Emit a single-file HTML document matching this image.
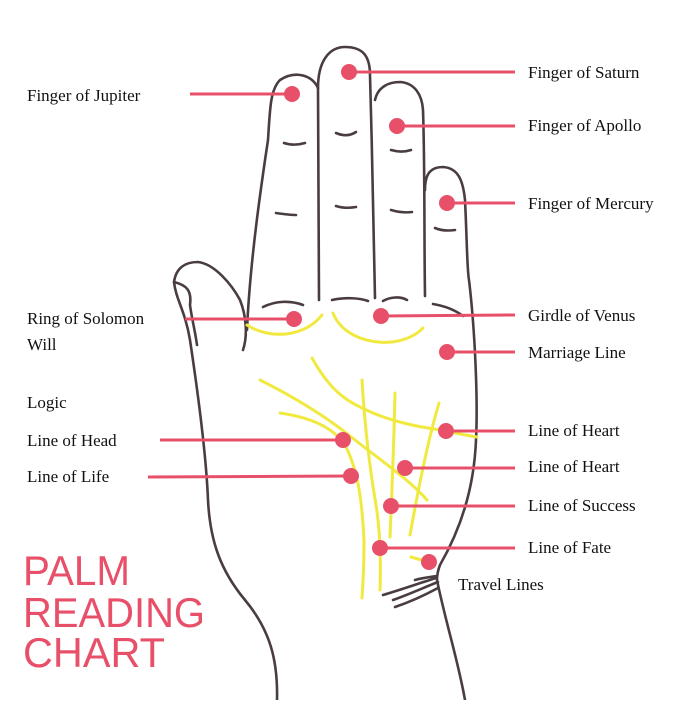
<!DOCTYPE html>
<html><head><meta charset="utf-8"><style>html,body{margin:0;padding:0;background:#fff}</style></head>
<body>
<svg width="700" height="700" viewBox="0 0 700 700" xmlns="http://www.w3.org/2000/svg">
<g fill="none" stroke="#4a3d42" stroke-width="2.6" stroke-linecap="round" stroke-linejoin="round">
<!-- left outline + thumb -->
<path d="M277,700 C278,660 270,630 245,600 C220,570 210,540 208,500 C206,450 196,380 190,340 C185,310 176,300 174,282 C176,268 185,262 198,262 C215,264 232,285 240,300 C246,315 248,335 243,350"/>
<path d="M174,282 C186,285 192,290 190,305 C192,320 195,330 197,345"/>
<!-- index finger -->
<path d="M247,330 C250,260 262,180 268,140 C270,110 270,90 280,80 C295,70 312,75 318,88"/>
<!-- middle -->
<path d="M318,88 C318,60 330,47 345,47 C362,47 370,55 370,75 C372,150 374,230 375,298"/>
<path d="M318,88 C318,160 319,230 319,300"/>
<!-- ring -->
<path d="M375,100 C378,86 390,82 400,82 C415,83 422,95 423,110 C425,170 424,230 425,296"/>
<!-- pinky -->
<path d="M425,190 C425,172 432,167 443,167 C458,168 463,180 465,200 C467,240 467,270 469,280 C475,330 478,400 476,440 C474,490 460,530 440,565 C438,570 437,575 437,580 C445,620 458,660 465,700"/>
<!-- finger creases -->
<path d="M284,143 C290,145 298,145 305,143"/>
<path d="M276,213 C283,214 290,215 296,215"/>
<path d="M336,133 C343,136 350,136 356,132"/>
<path d="M336,206 C342,208 350,208 356,207"/>
<path d="M391,150 C398,152 405,152 411,150"/>
<path d="M391,210 C398,212 405,213 412,212"/>
<path d="M435,228 C442,231 448,231 455,230"/>
<path d="M263,307 C275,301 290,300 303,305"/>
<path d="M332,300 C345,297 360,298 368,301"/>
<path d="M383,301 C390,297 400,296 407,300"/>
<path d="M433,304 C445,306 455,310 463,316"/>
<!-- travel lines -->
<path d="M383,595 C400,590 420,583 436,578"/>
<path d="M393,600 C410,594 425,587 438,582"/>
<path d="M415,580 C422,578 430,577 437,576"/>
<path d="M395,607 C410,602 425,595 438,588"/>
</g>
<g fill="none" stroke="#f0ea40" stroke-width="3" stroke-linecap="round">
<path d="M247,325 C270,340 305,337 322,315"/>
<path d="M333,313 C345,345 400,352 423,328"/>
<path d="M312,358 C330,390 345,400 362,408 C390,422 420,427 440,430 C455,433 465,435 477,437"/>
<path d="M260,380 C300,400 330,420 350,436 C380,460 410,480 427,500"/>
<path d="M280,413 C315,418 335,430 345,445 C358,470 362,500 364,540 C364,570 363,585 362,598"/>
<path d="M362,380 C365,430 370,470 376,505 C380,530 381,560 380,590"/>
<path d="M395,393 C394,440 392,490 390,537"/>
<path d="M439,403 C428,440 418,490 410,535"/>
<path d="M411,557 L425,561"/>
</g>
<g stroke="#e8506a" stroke-width="3" fill="#e8506a">
<line x1="190" y1="94" x2="292" y2="94"/><circle cx="292" cy="94" r="6.5"/>
<line x1="349" y1="72" x2="515" y2="72"/><circle cx="349" cy="72" r="6.5"/>
<line x1="397" y1="126" x2="515" y2="126"/><circle cx="397" cy="126" r="6.5"/>
<line x1="447" y1="203" x2="515" y2="203"/><circle cx="447" cy="203" r="6.5"/>
<line x1="185" y1="319" x2="294" y2="319"/><circle cx="294" cy="319" r="6.5"/>
<line x1="381" y1="316" x2="515" y2="315"/><circle cx="381" cy="316" r="6.5"/>
<line x1="447" y1="352" x2="515" y2="352"/><circle cx="447" cy="352" r="6.5"/>
<line x1="160" y1="440" x2="343" y2="440"/><circle cx="343" cy="440" r="6.5"/>
<line x1="148" y1="477" x2="351" y2="476"/><circle cx="351" cy="476" r="6.5"/>
<line x1="446" y1="431" x2="515" y2="431"/><circle cx="446" cy="431" r="6.5"/>
<line x1="405" y1="468" x2="515" y2="468"/><circle cx="405" cy="468" r="6.5"/>
<line x1="391" y1="506" x2="515" y2="506"/><circle cx="391" cy="506" r="6.5"/>
<line x1="380" y1="548" x2="515" y2="548"/><circle cx="380" cy="548" r="6.5"/>
<circle cx="429" cy="562" r="6.5"/>
</g>
<g font-family="Liberation Serif, serif" font-size="17" fill="#111">
<text x="27" y="101">Finger of Jupiter</text>
<text x="528" y="78">Finger of Saturn</text>
<text x="528" y="131">Finger of Apollo</text>
<text x="528" y="209">Finger of Mercury</text>
<text x="27" y="324">Ring of Solomon</text>
<text x="27" y="350">Will</text>
<text x="528" y="321">Girdle of Venus</text>
<text x="528" y="358">Marriage Line</text>
<text x="27" y="408">Logic</text>
<text x="27" y="446">Line of Head</text>
<text x="27" y="482">Line of Life</text>
<text x="528" y="436">Line of Heart</text>
<text x="528" y="472">Line of Heart</text>
<text x="528" y="511">Line of Success</text>
<text x="528" y="553">Line of Fate</text>
<text x="458" y="590">Travel Lines</text>
</g>
<g font-family="Liberation Sans, sans-serif" font-size="42" fill="#e8506a" lengthAdjust="spacingAndGlyphs">
<text x="23" y="585" textLength="107" lengthAdjust="spacingAndGlyphs">PALM</text>
<text x="23" y="627" textLength="182" lengthAdjust="spacingAndGlyphs">READING</text>
<text x="23" y="667" textLength="142" lengthAdjust="spacingAndGlyphs">CHART</text>
</g>
</svg>
</body></html>
